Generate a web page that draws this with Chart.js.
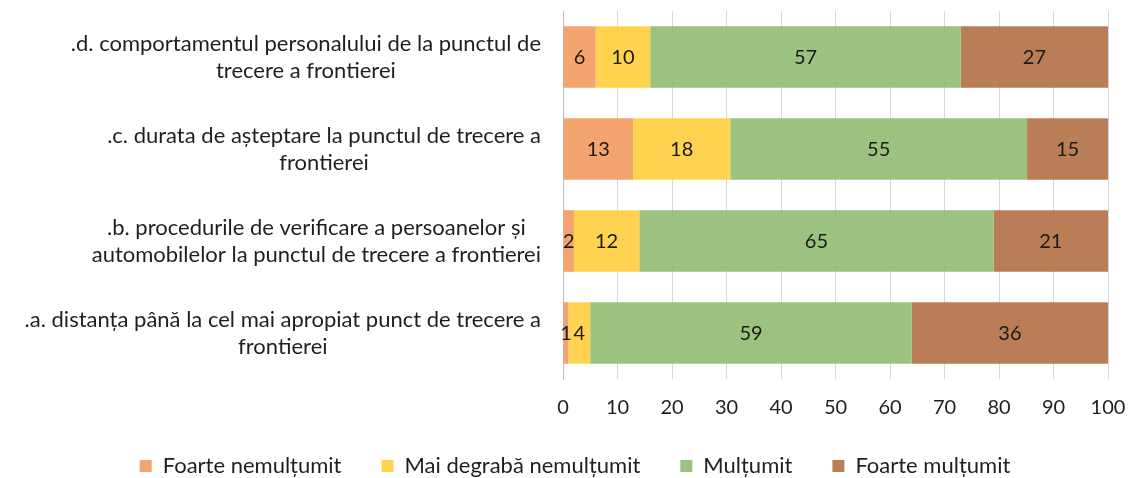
<!DOCTYPE html>
<html>
<head>
<meta charset="utf-8">
<script src="https://cdn.jsdelivr.net/npm/chart.js@4/dist/chart.umd.min.js"></script>
<style>
  html, body { margin: 0; padding: 0; background: #fff; }
  #wrap { width: 1129px; height: 478px; position: relative; }
</style>
</head>
<body>
<div id="wrap"><canvas id="chart"></canvas></div>
<script>
// --- Data ---
const categories = [
  [".d. comportamentul personalului de la punctul de", "trecere a frontierei"],
  [".c. durata de așteptare la punctul de trecere a", "frontierei"],
  [".b. procedurile de verificare a persoanelor și", "automobilelor la punctul de trecere a frontierei"],
  [".a. distanța până la cel mai apropiat punct de trecere a", "frontierei"],
];
const seriesNames = ["Foarte nemulțumit", "Mai degrabă nemulțumit", "Mulțumit", "Foarte mulțumit"];
const foarteNemultumit = [6, 13, 2, 1];
const maiDegrabaNemultumit = [10, 18, 12, 4];
const multumit = [57, 55, 65, 59];
const foarteMultumit = [27, 15, 21, 36];
const xTicks = [0, 10, 20, 30, 40, 50, 60, 70, 80, 90, 100];

// slightly see-through so the gridlines show faintly, as in the original
const colors = [
  "rgba(242, 156, 99, 0.92)",
  "rgba(255, 207, 64, 0.92)",
  "rgba(147, 190, 116, 0.92)",
  "rgba(179, 115, 70, 0.92)",
];
const FONT = "Lato, 'Noto Sans', sans-serif";

// 100% stacked, like the original: each row is scaled to its own total
const raw = [foarteNemultumit, maiDegrabaNemultumit, multumit, foarteMultumit];
const rowTotals = categories.map((_, i) => raw.reduce((s, arr) => s + arr[i], 0));
const percent = (arr) => arr.map((v, i) => (v / rowTotals[i]) * 100);

// value labels in the middle of each segment
const valueLabels = {
  id: "valueLabels",
  afterDatasetsDraw(chart) {
    const ctx = chart.ctx;
    ctx.save();
    ctx.font = "20px " + FONT;
    ctx.fillStyle = "#1a1a1a";
    ctx.textAlign = "center";
    ctx.textBaseline = "middle";
    chart.data.datasets.forEach((ds, di) => {
      const meta = chart.getDatasetMeta(di);
      meta.data.forEach((bar, i) => {
        ctx.fillText(String(raw[di][i]), (bar.x + bar.base) / 2, bar.y + 1);
      });
    });
    ctx.restore();
  },
};

// category labels: each one centred on itself, right edge near the axis
const categoryLabels = {
  id: "categoryLabels",
  afterDraw(chart) {
    const ctx = chart.ctx;
    const yScale = chart.scales.y;
    const rightEdge = chart.chartArea.left - 22;
    const lineH = 27;
    ctx.save();
    ctx.font = "22px " + FONT;
    ctx.fillStyle = "#1f1f1f";
    ctx.textAlign = "center";
    ctx.textBaseline = "middle";
    categories.forEach((lines, i) => {
      const w = Math.max(...lines.map((l) => ctx.measureText(l).width));
      const cx = rightEdge - w / 2;
      const cy = yScale.getPixelForTick(i);
      const top = cy - ((lines.length - 1) * lineH) / 2;
      lines.forEach((l, j) => ctx.fillText(l, cx, top + j * lineH));
    });
    ctx.restore();
  },
};

new Chart(document.getElementById("chart"), {
  type: "bar",
  data: {
    labels: categories,
    datasets: seriesNames.map((name, k) => ({
      label: name,
      data: percent(raw[k]),
      backgroundColor: colors[k],
      borderWidth: 0,
      barPercentage: 0.67,
      categoryPercentage: 1,
    })),
  },
  options: {
    indexAxis: "y",
    responsive: true,
    maintainAspectRatio: false,
    animation: false,
    layout: { padding: { top: 11, right: 21, bottom: -9, left: 42 } },
    plugins: {
      legend: {
        position: "bottom",
        labels: {
          font: { family: FONT, size: 22 },
          color: "#1f1f1f",
          boxWidth: 12,
          boxHeight: 12,
          padding: 40,
        },
      },
      tooltip: { enabled: false },
    },
    scales: {
      x: {
        stacked: true,
        min: 0,
        max: 100,
        afterBuildTicks: (scale) => { scale.ticks = xTicks.map((v) => ({ value: v })); },
        afterFit: (scale) => {
          scale.height = 36;
          scale.paddingLeft = 0;
          scale.paddingRight = 0;
        },
        ticks: {
          font: { family: FONT, size: 20 },
          color: "#1f1f1f",
          padding: 17,
        },
        grid: { color: "#d9d9d9", drawTicks: false },
        border: { display: false },
      },
      y: {
        stacked: true,
        ticks: { display: false },
        grid: { display: false },
        border: { display: true, color: "#bfbfbf" },
        afterFit: (scale) => { scale.width = 521; },
      },
    },
  },
  plugins: [valueLabels, categoryLabels],
});
</script>
</body>
</html>
